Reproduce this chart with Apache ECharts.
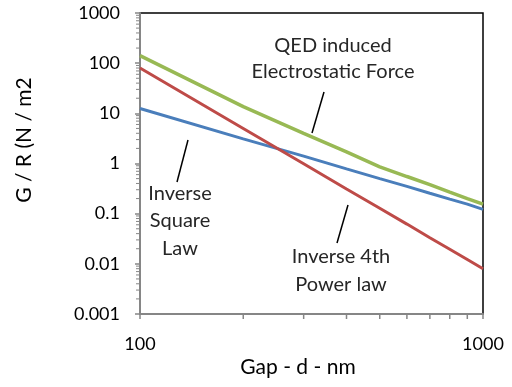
<!DOCTYPE html>
<html>
<head>
<meta charset="utf-8">
<script src="https://cdn.jsdelivr.net/npm/echarts@6/dist/echarts.min.js"></script>
<style>
  html, body { margin: 0; padding: 0; background: #fff; }
  #chart { width: 512px; height: 387px; }
</style>
</head>
<body>
<div id="chart"></div>
<script>
// gap in nm
var gaps = [100, 200, 300, 400, 500, 600, 700, 800, 900, 1000];
// G / R values
var inverseSquare = [12.5, 3.1, 1.4, 0.78, 0.5, 0.35, 0.255, 0.195, 0.155, 0.122];
var inverse4th = [80, 5, 0.99, 0.31, 0.128, 0.062, 0.033, 0.0195, 0.0122, 0.008];
var qedForce = [141, 13.6, 4.0, 1.7, 0.86, 0.55, 0.38, 0.27, 0.2, 0.155];

var xMinorTicks = [200, 300, 400, 500, 600, 700, 800, 900];
var yDecades = [0.001, 0.01, 0.1, 1, 10, 100];

var FONT = 'Lato';

function pairs(xs, ys) {
  return xs.map(function (x, i) { return [x, ys[i]]; });
}

// minor ticks on the log y axis (2..9 in each decade)
var yMinorTicks = [];
yDecades.forEach(function (d) {
  for (var k = 2; k <= 9; k++) yMinorTicks.push(Number((d * k).toPrecision(3)));
});

var chart = echarts.init(document.getElementById('chart'));

var option = {
  animation: false,
  grid: {
    left: 140, right: 29, top: 13, bottom: 73,
    show: true, borderColor: '#000', borderWidth: 1.5
  },
  xAxis: {
    type: 'log', logBase: 10, min: 100, max: 1000, splitNumber: 1,
    axisLine: { lineStyle: { color: '#868686', width: 2 } },
    axisTick: { length: 5, lineStyle: { color: '#868686', width: 1.5 } },
    splitLine: { show: false },
    axisLabel: {
      fontFamily: FONT, fontSize: 18, color: '#000', margin: 21,
      formatter: function (v) { return String(Math.round(v)); }
    }
  },
  yAxis: {
    type: 'log', logBase: 10, min: 0.001, max: 1000, splitNumber: 6,
    axisLine: { lineStyle: { color: '#868686', width: 2 } },
    axisTick: { length: 5, lineStyle: { color: '#868686', width: 1.5 } },
    splitLine: { show: false },
    axisLabel: {
      fontFamily: FONT, fontSize: 18, color: '#000', margin: 20,
      formatter: function (v) { return String(Number(v.toPrecision(3))); }
    }
  },
  series: [
    {
      type: 'line', data: pairs(gaps, inverseSquare), showSymbol: false,
      lineStyle: { color: '#4a7ebb', width: 3 }, itemStyle: { color: '#4a7ebb' }
    },
    {
      type: 'line', data: pairs(gaps, inverse4th), showSymbol: false,
      lineStyle: { color: '#be4b48', width: 3 }, itemStyle: { color: '#be4b48' }
    },
    {
      type: 'line', data: pairs(gaps, qedForce), showSymbol: false,
      lineStyle: { color: '#98b954', width: 3.5 }, itemStyle: { color: '#98b954' }
    },
    {
      // x minor ticks
      type: 'custom', silent: true,
      data: xMinorTicks.map(function (v) { return [v, 0.001]; }),
      renderItem: function (params, api) {
        var p = api.coord([api.value(0), api.value(1)]);
        return { type: 'line', shape: { x1: p[0], y1: p[1], x2: p[0], y2: p[1] + 5 },
                 style: { stroke: '#868686', lineWidth: 1.5 } };
      }
    },
    {
      // y minor ticks
      type: 'custom', silent: true,
      data: yMinorTicks.map(function (v) { return [100, v]; }),
      renderItem: function (params, api) {
        var p = api.coord([api.value(0), api.value(1)]);
        return { type: 'line', shape: { x1: p[0] - 4, y1: p[1], x2: p[0], y2: p[1] },
                 style: { stroke: '#868686', lineWidth: 1 } };
      }
    }
  ],
  graphic: [
    { type: 'text', x: 24, y: 140, rotation: Math.PI / 2,
      style: { text: 'G / R (N / m2', font: '21px ' + FONT, fill: '#000', textAlign: 'center', textVerticalAlign: 'middle' } },
    { type: 'text', x: 298, y: 367,
      style: { text: 'Gap - d - nm', font: '21px ' + FONT, fill: '#000', textAlign: 'center', textVerticalAlign: 'middle' } },
    { type: 'text', x: 333, y: 59,
      style: { text: 'QED induced\nElectrostatic Force', font: '20px ' + FONT, lineHeight: 26, fill: '#262626', textAlign: 'center', textVerticalAlign: 'middle' } },
    { type: 'line', shape: { x1: 324, y1: 92, x2: 312, y2: 133 }, style: { stroke: '#000', lineWidth: 1.5 } },
    { type: 'text', x: 180, y: 221,
      style: { text: 'Inverse\nSquare\nLaw', font: '20px ' + FONT, lineHeight: 27.5, fill: '#262626', textAlign: 'center', textVerticalAlign: 'middle' } },
    { type: 'line', shape: { x1: 188, y1: 140, x2: 177, y2: 182 }, style: { stroke: '#000', lineWidth: 1.5 } },
    { type: 'text', x: 341, y: 271,
      style: { text: 'Inverse 4th\nPower law', font: '20px ' + FONT, lineHeight: 28, fill: '#262626', textAlign: 'center', textVerticalAlign: 'middle' } },
    { type: 'line', shape: { x1: 348, y1: 205, x2: 337, y2: 243 }, style: { stroke: '#000', lineWidth: 1.5 } }
  ]
};

chart.setOption(option);
</script>
</body>
</html>
